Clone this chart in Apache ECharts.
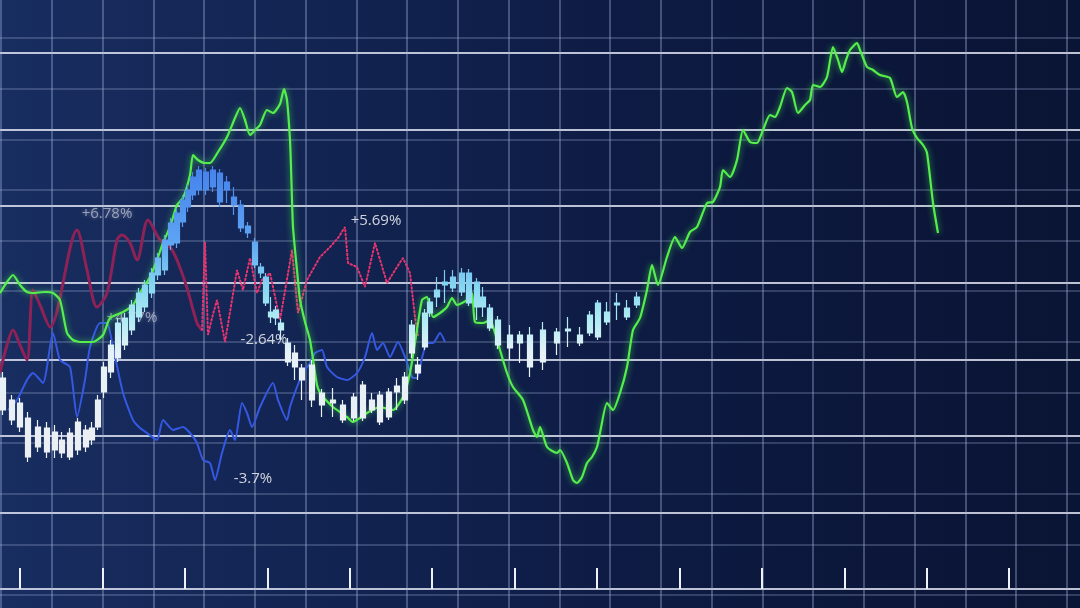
<!DOCTYPE html>
<html><head><meta charset="utf-8">
<script src="https://cdn.jsdelivr.net/npm/echarts@6/dist/echarts.min.js"></script>
<style>html,body{margin:0;padding:0;background:#0f1d48;overflow:hidden}#c{width:1080px;height:608px}</style>
</head><body><div id="c"></div>
<script>
// x = time units, y = price units (higher = up)
const greenLine = [[0,315],[7,326],[13,333],[20,323],[27,316],[33,315],[45,316],[53,315],[60,308],[67,275],[73,268],[80,266],[93,266],[103,273],[110,290],[123,296],[133,303],[140,315],[150,331],[157,348],[163,365],[170,381],[177,403],[183,410],[190,433],[193,453],[198,448],[205,445],[210,445],[218,456],[227,471],[235,490],[240,500],[245,488],[250,473],[255,478],[260,483],[267,498],[273,495],[280,504],[284,519],[287,508],[290,468],[291,441],[293,381],[297,338],[300,308],[305,286],[310,268],[317,223],[320,215],[323,211],[333,201],[347,191],[353,186],[360,190],[367,195],[380,201],[393,198],[403,211],[410,235],[417,278],[422,308],[427,311],[433,291],[440,295],[447,301],[452,310],[457,303],[467,308],[472,315],[475,286],[483,285],[490,288],[495,275],[500,258],[507,235],[513,221],[523,208],[533,178],[537,171],[540,181],[547,161],[557,155],[560,158],[567,145],[573,128],[577,125],[582,131],[587,145],[592,151],[597,161],[600,175],[607,205],[613,198],[620,215],[627,241],[633,278],[640,290],[647,318],[652,343],[658,323],[667,351],[675,371],[682,360],[690,376],[697,381],[707,405],[713,406],[720,421],[723,438],[730,431],[737,448],[743,478],[750,466],[757,465],[763,478],[770,493],[775,491],[780,501],[787,520],[792,516],[798,495],[805,503],[810,508],[813,523],[820,521],[827,531],[833,561],[838,548],[842,536],[846,548],[850,558],[857,565],[860,558],[867,541],[873,538],[880,533],[890,530],[897,511],[903,516],[907,506],[912,480],[917,470],[923,463],[927,455],[933,405],[938,375]];

const pinkSolid = [[0,235],[7,263],[13,278],[20,263],[27,248],[33,318],[40,303],[50,281],[77,378],[87,338],[97,301],[107,315],[117,368],[122,373],[130,365],[137,348],[148,388],[160,368],[170,361],[177,348],[187,320],[197,285],[202,278]];

const pinkDotted = [[202,278],[205,366],[208,273],[212,290],[217,308],[225,266],[232,308],[237,338],[243,318],[250,350],[257,315],[262,328],[270,335],[280,288],[292,358],[298,295],[307,328],[320,351],[330,361],[338,370],[345,381],[348,345],[357,341],[365,321],[375,365],[387,325],[397,341],[403,350],[410,335],[415,291],[418,273]];

const blueLine = [[8,198],[17,208],[27,228],[33,235],[43,225],[53,275],[60,248],[70,241],[77,191],[85,228],[90,261],[100,285],[107,285],[113,261],[123,215],[133,188],[140,180],[147,175],[157,168],[163,188],[173,178],[183,181],[190,175],[197,165],[203,148],[210,145],[215,128],[222,155],[230,178],[235,168],[242,205],[247,195],[252,181],[260,201],[273,225],[278,208],[287,188],[290,201],[297,221],[303,235],[310,245],[315,255],[322,258],[327,241],[337,231],[347,228],[357,235],[365,251],[372,275],[377,258],[383,265],[390,251],[398,266],[405,251],[412,231],[417,230],[422,250],[427,265],[433,265],[440,275],[445,266]];

// [time, open, close, lowest, highest]
const candles = [[3,230,198,193,236],[12,208,188,183,213],[20,205,181,176,210],[28,190,151,146,196],[38,161,181,156,188],[47,180,156,150,186],[55,158,176,150,183],[62,168,155,150,176],[70,151,175,148,180],[78,158,186,153,190],[86,178,161,156,183],[92,168,180,163,186],[98,181,208,178,213],[104,216,241,210,246],[111,236,263,230,268],[118,250,285,246,290],[125,263,290,258,295],[132,278,303,273,308],[139,291,315,286,320],[145,301,323,296,328],[152,315,335,310,340],[158,333,350,328,355],[165,338,368,333,373],[171,363,385,358,390],[177,365,395,360,400],[183,386,408,381,413],[188,401,418,396,423],[193,413,431,408,436],[199,418,438,413,442],[206,436,418,413,440],[213,421,438,416,442],[220,435,406,401,439],[227,426,418,405,432],[234,411,403,393,421],[241,403,380,376,408],[248,382,375,370,386],[255,366,343,340,370],[261,341,335,330,345],[266,331,305,302,335],[271,296,291,285,311],[276,290,298,283,302],[281,285,278,268,289],[288,265,246,242,270],[295,255,241,228,263],[302,240,228,208,244],[312,208,243,201,248],[322,215,203,191,219],[333,208,205,191,220],[343,203,188,185,208],[354,190,211,187,215],[363,190,223,187,227],[372,208,198,195,215],[380,186,213,183,217],[389,191,216,188,220],[397,216,222,198,230],[405,208,231,204,236],[412,255,283,250,288],[418,243,235,228,251],[425,261,295,258,299],[430,295,306,291,310],[437,311,318,301,331],[445,323,326,305,338],[453,320,331,316,338],[462,335,316,312,340],[469,335,305,302,339],[477,326,301,288,330],[483,311,301,291,321],[490,300,280,277,304],[498,288,263,259,292],[510,260,273,248,283],[520,273,265,245,277],[530,241,273,231,281],[543,246,278,238,286],[557,265,276,253,280],[568,277,279,261,291],[580,265,273,262,281],[590,275,293,272,297],[598,271,305,268,308],[607,296,286,283,306],[617,303,305,288,315],[627,291,300,288,308],[637,303,311,300,316]];

const tickValues = [0,1,2,3,4,5,6,7,8,9,10,11,12];

const labelTexts = ['+6.78%','+4.77%','-2.64%','+5.69%','-3.7%'];
const labelPoints = [[107,394],[132,290],[264,268],[376,387],[253,129]];
const labelFaded = [true,true,false,false,false];

const chart = echarts.init(document.getElementById('c'), null, {renderer:'canvas', width:1080, height:608});

const candleGrad = new echarts.graphic.LinearGradient(0,170,0,460,[
  {offset:0, color:'#4683ec'},
  {offset:0.24, color:'#5da3f3'},
  {offset:0.41, color:'#88d8f1'},
  {offset:0.52, color:'#b2ecf4'},
  {offset:0.63, color:'#e6f2f7'},
  {offset:1, color:'#eceef2'}
], true);

const hidden = {axisLine:{show:false}, axisTick:{show:false}, axisLabel:{show:false}, splitLine:{show:false}};

chart.setOption({
  animation:false,
  backgroundColor:{type:'linear', x:0, y:0, x2:1, y2:0, colorStops:[
    {offset:0, color:'#182d60'},{offset:0.35, color:'#11224f'},{offset:0.7, color:'#0c183e'},{offset:1, color:'#0a1434'}]},
  grid:[
    {left:1, right:13, top:0, bottom:0},
    {left:0, right:0, top:53, bottom:19},
    {left:20, right:0, top:53, bottom:19},
    {left:0, right:0, top:0, bottom:0},
    {left:0, right:0, top:38, bottom:13}
  ],
  xAxis:[
    Object.assign({}, hidden, {gridIndex:0, type:'value', min:0, max:21, interval:1,
      splitLine:{show:true, lineStyle:{color:'rgba(165,180,220,0.36)', width:2}}}),
    Object.assign({}, hidden, {gridIndex:1, type:'value', min:0, max:1}),
    Object.assign({}, hidden, {gridIndex:2, type:'value', min:0, max:12.86, interval:1,
      axisTick:{show:true, inside:true, length:21, customValues:tickValues, lineStyle:{color:'#eef1f8', width:2}}}),
    Object.assign({}, hidden, {gridIndex:3, type:'value', min:0, max:1080}),
    Object.assign({}, hidden, {gridIndex:4, type:'value', min:0, max:1})
  ],
  yAxis:[
    Object.assign({}, hidden, {gridIndex:0, type:'value', min:0, max:1}),
    Object.assign({}, hidden, {gridIndex:1, type:'value', min:0, max:7, interval:1,
      splitLine:{show:true, lineStyle:{color:'rgba(228,232,246,0.82)', width:2}}}),
    Object.assign({}, hidden, {gridIndex:2, type:'value', min:0, max:1}),
    Object.assign({}, hidden, {gridIndex:3, type:'value', min:0, max:608}),
    Object.assign({}, hidden, {gridIndex:4, type:'value', min:0, max:11, interval:1,
      splitLine:{show:true, lineStyle:{color:'rgba(165,180,220,0.26)', width:2}}})
  ],
  series:[
    {type:'scatter', xAxisIndex:3, yAxisIndex:3, z:1, symbolSize:1, itemStyle:{color:'rgba(0,0,0,0)'},
      data: labelTexts.map((t,i)=>({name:t, value:labelPoints[i],
        label:labelFaded[i] ? {color:'rgba(215,218,230,0.8)', textShadowColor:'rgba(255,255,255,0.6)', textShadowBlur:4} : {color:'#ffffff'}})),
      label:{show:true, position:'inside', formatter:'{b}', fontSize:15, fontFamily:'"Open Sans", "Noto Sans", sans-serif'}},
    {type:'line', xAxisIndex:3, yAxisIndex:3, z:2, data:pinkSolid, symbol:'none', smooth:0.3,
      lineStyle:{color:'#8e2256', width:3}},
    {type:'line', xAxisIndex:3, yAxisIndex:3, z:2, data:pinkDotted, symbol:'none',
      lineStyle:{color:'#e8336f', width:2, type:[1.5,2.5], cap:'round'}},
    {type:'line', xAxisIndex:3, yAxisIndex:3, z:2, data:blueLine, symbol:'none', smooth:0.2,
      lineStyle:{color:'#3558e2', width:2}},
    {type:'line', xAxisIndex:3, yAxisIndex:3, z:3, data:greenLine, symbol:'none', smooth:0.2,
      lineStyle:{color:'#55ee4c', width:2.2, shadowColor:'rgba(80,255,80,0.7)', shadowBlur:6}},
    {type:'candlestick', xAxisIndex:3, yAxisIndex:3, z:4, data:candles, encode:{x:0, y:[1,2,3,4]},
      barWidth:6, itemStyle:{color:candleGrad, color0:candleGrad, borderColor:candleGrad, borderColor0:candleGrad, borderWidth:1.2}}
  ]
});
</script></body></html>
